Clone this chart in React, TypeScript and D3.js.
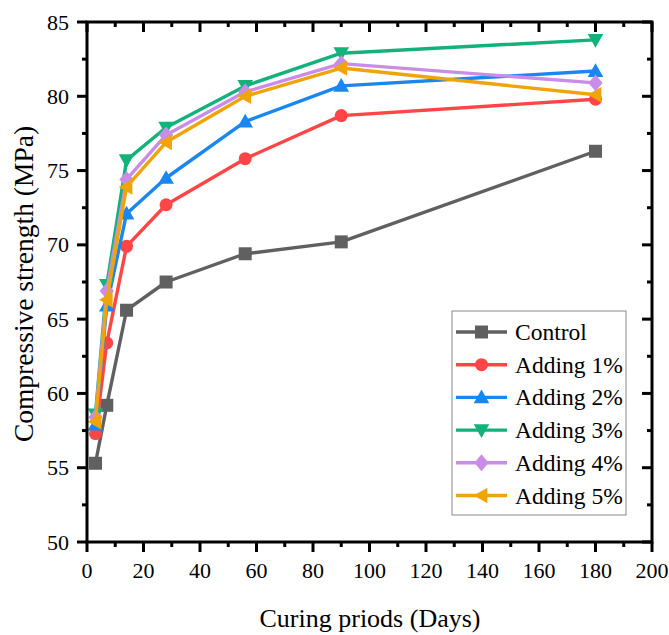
import React, { useEffect, useRef } from 'react';
import * as d3 from 'd3';

// curing days and strengths (MPa)
const days = [3, 7, 14, 28, 56, 90, 180];
const control = [55.3, 59.2, 65.6, 67.5, 69.4, 70.2, 76.3];
const adding1 = [57.3, 63.4, 69.9, 72.7, 75.8, 78.7, 79.8];
const adding2 = [57.9, 65.9, 72.1, 74.5, 78.3, 80.7, 81.7];
const adding3 = [58.6, 67.3, 75.7, 77.9, 80.7, 82.9, 83.8];
const adding4 = [58.4, 66.9, 74.4, 77.4, 80.3, 82.2, 80.9];
const adding5 = [58.1, 66.3, 73.9, 76.9, 80.0, 81.9, 80.1];

const seriesNames = ['Control', 'Adding 1%', 'Adding 2%', 'Adding 3%', 'Adding 4%', 'Adding 5%'];
const seriesValues = [control, adding1, adding2, adding3, adding4, adding5];
const seriesColors = ['#606060', '#FF4545', '#1A86F0', '#12B27A', '#C98DE8', '#EFA40A'];
const seriesMarkers = ['square', 'circle', 'up', 'down', 'diamond', 'left'];

const xTicks = [0, 20, 40, 60, 80, 100, 120, 140, 160, 180, 200];
const yTicks = [50, 55, 60, 65, 70, 75, 80, 85];

const W = 669;
const H = 635;
const FONT = '"Liberation Serif", "Times New Roman", serif';

const markerPath = (kind: string, s: number) => {
  switch (kind) {
    case 'square':
      return `M${-s / 2},${-s / 2}h${s}v${s}h${-s}Z`;
    case 'circle':
      return d3.symbol(d3.symbolCircle, Math.PI * (s / 2) * (s / 2))() as string;
    case 'up':
      return `M0,${-s * 0.6}L${s * 0.6},${s * 0.45}L${-s * 0.6},${s * 0.45}Z`;
    case 'down':
      return `M0,${s * 0.6}L${s * 0.6},${-s * 0.45}L${-s * 0.6},${-s * 0.45}Z`;
    case 'left':
      return `M${-s * 0.6},0L${s * 0.45},${-s * 0.6}L${s * 0.45},${s * 0.6}Z`;
    case 'diamond':
    default:
      return `M0,${-s * 0.65}L${s * 0.55},0L0,${s * 0.65}L${-s * 0.55},0Z`;
  }
};

const App = () => {
  const svgRef = useRef<SVGSVGElement>(null);

  useEffect(() => {
    const svg = d3.select(svgRef.current);
    svg.selectAll('*').remove();

    const left = 87, right = 652, top = 22, bottom = 542;

    const x = d3.scaleLinear().domain([0, 200]).range([left, right]);
    const y = d3.scaleLinear().domain([50, 85]).range([bottom, top]);

    svg.append('rect').attr('width', W).attr('height', H).attr('fill', '#fff');

    // series
    const line = d3.line<number>()
      .x((_, i) => x(days[i]))
      .y(d => y(d));

    seriesValues.forEach((vals, si) => {
      const g = svg.append('g');
      g.append('path')
        .attr('d', line(vals))
        .attr('fill', 'none')
        .attr('stroke', seriesColors[si])
        .attr('stroke-width', 3.4)
        .attr('stroke-linejoin', 'round');
      g.selectAll('path.m')
        .data(vals)
        .enter()
        .append('path')
        .attr('class', 'm')
        .attr('d', markerPath(seriesMarkers[si], 13))
        .attr('transform', (d, i) => `translate(${x(days[i])},${y(d)})`)
        .attr('fill', seriesColors[si]);
    });

    // frame
    const ax = svg.append('g').attr('stroke', '#000').attr('stroke-width', 3);
    ax.append('rect')
      .attr('x', left).attr('y', top)
      .attr('width', right - left).attr('height', bottom - top)
      .attr('fill', 'none');

    // x ticks: out at bottom, in at top
    d3.range(0, 201, 10).forEach(v => {
      const major = v % 20 === 0;
      const len = major ? 10 : 5;
      ax.append('line').attr('x1', x(v)).attr('x2', x(v)).attr('y1', bottom).attr('y2', bottom + len);
      ax.append('line').attr('x1', x(v)).attr('x2', x(v)).attr('y1', top).attr('y2', top + len);
    });
    // y ticks: out at left, in at right
    d3.range(50, 85.01, 2.5).forEach(v => {
      const major = v % 5 === 0;
      const len = major ? 10 : 5;
      ax.append('line').attr('x1', left - len).attr('x2', left).attr('y1', y(v)).attr('y2', y(v));
      ax.append('line').attr('x1', right - len).attr('x2', right).attr('y1', y(v)).attr('y2', y(v));
    });

    svg.append('g')
      .selectAll('text')
      .data(xTicks)
      .enter()
      .append('text')
      .attr('x', d => x(d))
      .attr('y', bottom + 36)
      .attr('text-anchor', 'middle')
      .attr('font-family', FONT)
      .attr('font-size', 22)
      .text(d => d);

    svg.append('g')
      .selectAll('text')
      .data(yTicks)
      .enter()
      .append('text')
      .attr('x', left - 18)
      .attr('y', d => y(d) + 7.5)
      .attr('text-anchor', 'end')
      .attr('font-family', FONT)
      .attr('font-size', 22)
      .text(d => d);

    // axis titles
    svg.append('text')
      .attr('x', 370)
      .attr('y', 627)
      .attr('text-anchor', 'middle')
      .attr('font-family', FONT)
      .attr('font-size', 26)
      .text('Curing priods (Days)');

    svg.append('text')
      .attr('transform', `translate(33,284) rotate(-90)`)
      .attr('text-anchor', 'middle')
      .attr('font-family', FONT)
      .attr('font-size', 27.5)
      .text('Compressive strength (MPa)');

    // legend
    const lg = svg.append('g').attr('transform', 'translate(452,311)');
    lg.append('rect')
      .attr('width', 174).attr('height', 204)
      .attr('fill', '#fff')
      .attr('stroke', '#8a8a8a')
      .attr('stroke-width', 1);
    seriesNames.forEach((name, i) => {
      const ry = 21 + i * 32.7;
      lg.append('line')
        .attr('x1', 4).attr('x2', 55)
        .attr('y1', ry).attr('y2', ry)
        .attr('stroke', seriesColors[i])
        .attr('stroke-width', 3.4);
      lg.append('path')
        .attr('d', markerPath(seriesMarkers[i], 13))
        .attr('transform', `translate(29.5,${ry})`)
        .attr('fill', seriesColors[i]);
      lg.append('text')
        .attr('x', 63)
        .attr('y', ry + 8)
        .attr('font-family', FONT)
        .attr('font-size', 23.5)
        .text(name);
    });
  }, []);

  return (
    <svg
      ref={svgRef}
      width={W}
      height={H}
      style={{ position: 'absolute', left: 0, top: 0 }}
    />
  );
};

export default App;
